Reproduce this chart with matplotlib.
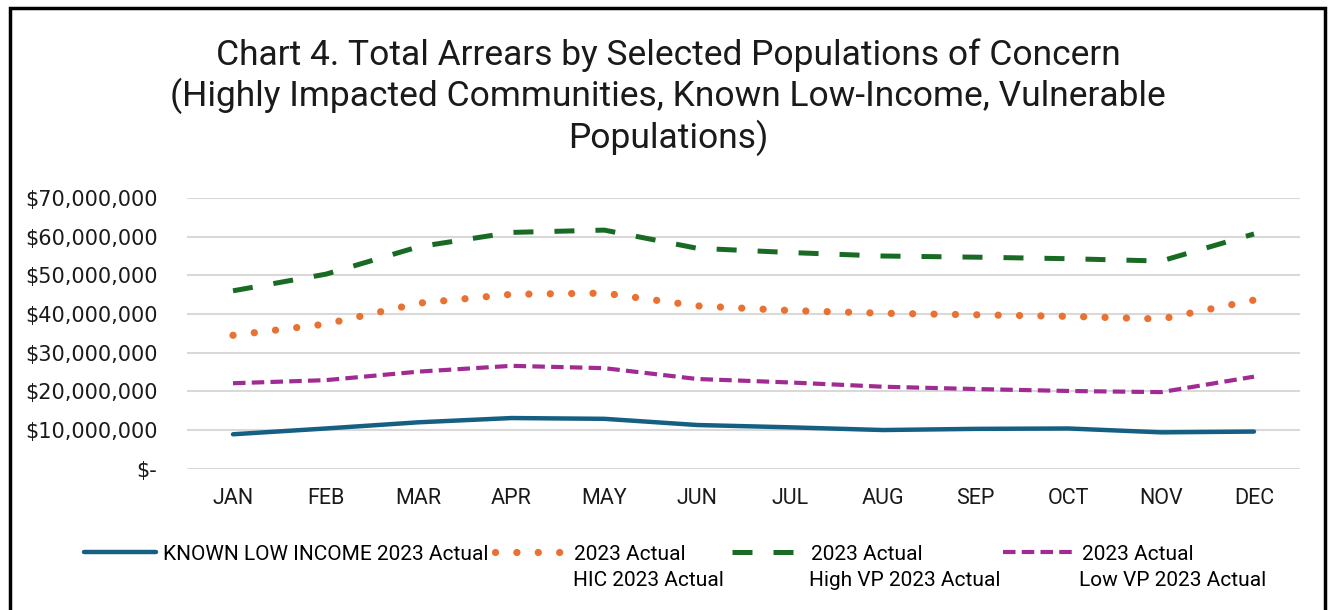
import matplotlib.pyplot as plt
from matplotlib.patches import Rectangle
from matplotlib.ticker import FuncFormatter

plt.rcParams['font.family'] = ['Roboto', 'DejaVu Sans']

months = ['JAN', 'FEB', 'MAR', 'APR', 'MAY', 'JUN', 'JUL', 'AUG', 'SEP', 'OCT', 'NOV', 'DEC']

# arrears in dollars
known_low_income = [8.9e6, 10.4e6, 12.0e6, 13.1e6, 12.9e6, 11.3e6, 10.7e6, 10.0e6, 10.3e6, 10.4e6, 9.4e6, 9.6e6]
hic = [34.5e6, 37.4e6, 42.8e6, 45.1e6, 45.4e6, 42.1e6, 40.9e6, 40.2e6, 39.8e6, 39.4e6, 38.7e6, 43.6e6]
high_vp = [46.0e6, 50.3e6, 57.4e6, 61.1e6, 61.7e6, 57.0e6, 55.9e6, 55.0e6, 54.7e6, 54.3e6, 53.7e6, 60.7e6]
low_vp = [22.1e6, 22.9e6, 25.1e6, 26.6e6, 26.0e6, 23.2e6, 22.3e6, 21.2e6, 20.6e6, 20.1e6, 19.8e6, 23.8e6]

legend_first = ['KNOWN LOW INCOME 2023 Actual', '2023 Actual', '2023 Actual', '2023 Actual']
legend_second = ['', 'HIC 2023 Actual', 'High VP 2023 Actual', 'Low VP 2023 Actual']

title = ('Chart 4. Total Arrears by Selected Populations of Concern\n'
         '(Highly Impacted Communities, Known Low-Income, Vulnerable\n'
         'Populations)')

W, H = 1333, 610
fig = plt.figure(figsize=(W / 100, H / 100), dpi=100)
ax = fig.add_axes([186.6 / W, 1 - 468.7 / H, (1300.4 - 186.6) / W, (468.7 - 198) / H])

x = range(len(months))
l1, = ax.plot(x, known_low_income, color='#156082', lw=3.2, solid_capstyle='round', solid_joinstyle='round')
l2, = ax.plot(x, hic, color='#E97132', lw=5.2, linestyle=(0, (0.01, 2.95)), dash_capstyle='round')
l3, = ax.plot(x, high_vp, color='#196B24', lw=3.6, linestyle=(0, (4.0, 4.2)), dash_capstyle='butt')
l4, = ax.plot(x, low_vp, color='#A02B93', lw=3.0, linestyle=(0, (3.0, 1.5)), dash_capstyle='butt')

ax.set_xlim(-0.5, 11.5)
ax.set_ylim(0, 70e6)
ax.set_yticks([i * 10e6 for i in range(8)])
ax.yaxis.set_major_formatter(FuncFormatter(lambda v, p: '$-' if v == 0 else f'${v:,.0f}'))
ax.set_xticks(list(x))
ax.set_xticklabels(months)
ax.tick_params(axis='y', length=0, pad=21, labelcolor='#1a1a1a')
ax.tick_params(axis='x', length=0, pad=14, labelsize=15.5, labelcolor='#1a1a1a')
for t in ax.get_yticklabels():
    t.set_fontfamily('DejaVu Sans')
    t.set_fontsize(15)
ax.grid(axis='y', color='#d9d9d9', lw=1.5)
ax.set_axisbelow(True)
for s in ax.spines.values():
    s.set_visible(False)

fig.text(668 / W, 1 - 97 / H, title, ha='center', va='center', fontsize=25.5,
         linespacing=1.2, color='#1a1a1a')

# legend, one block per series so the columns sit where they do in the chart
handles = [l1, l2, l3, l4]
starts = [84, 495, 732, 1003]
text_x = [162, 573, 809, 1079]
for h, lab, sx in zip(handles, legend_first, starts):
    fig.legend([h], [lab], loc='center left', bbox_to_anchor=(sx / W, 1 - 554 / H),
               frameon=False, borderpad=0, borderaxespad=0, handlelength=3.45,
               handletextpad=0.34, fontsize=15)
for lab, tx in zip(legend_second, text_x):
    if lab:
        fig.text(tx / W, 1 - 580 / H, lab, ha='left', va='center', fontsize=15)

fig.patches.append(Rectangle((10 / W, -0.02), (1325 - 10) / W, 1.02 - 8 / H,
                             transform=fig.transFigure, fill=False, ec='black', lw=2.5))

fig.savefig('out.png', dpi=100)
